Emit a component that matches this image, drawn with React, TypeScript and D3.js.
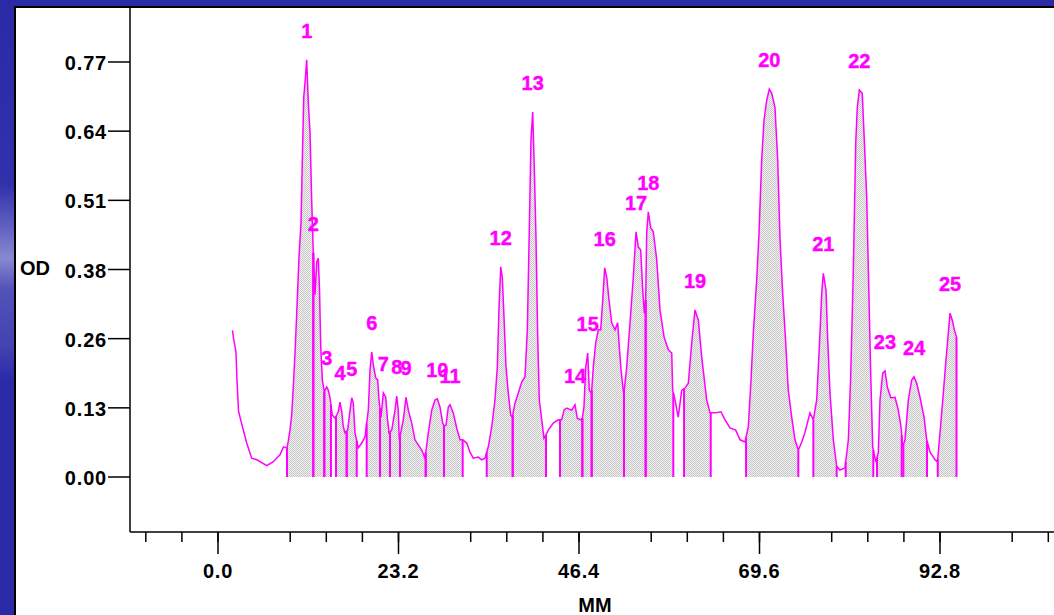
import React from 'react';
import * as d3 from 'd3';

// densitometer scan (MM, OD)
const mm = [
  1.86, 1.99, 2.31, 2.44, 2.64, 3.02, 3.69, 4.33, 5.01, 6.26, 7.07, 7.97, 8.42, 8.87,
  9.06, 9.25, 9.47, 9.68, 9.9, 10.12, 10.41, 10.67, 10.84, 11.02, 11.18, 11.4, 11.61, 11.83,
  12.04, 12.25, 12.47, 12.69, 12.89, 13.05, 13.2, 13.41, 13.66, 13.97, 14.18, 14.4, 14.69, 15.04,
  15.46, 15.68, 15.9, 16.11, 16.32, 16.67, 16.97, 17.19, 17.39, 17.61, 18.03, 18.47, 18.89, 19.32,
  19.54, 19.76, 19.96, 20.27, 20.53, 20.69, 20.95, 21.25, 21.56, 21.76, 21.98, 22.33, 22.75, 22.97,
  23.17, 23.3, 23.82, 24.16, 24.46, 24.9, 25.32, 26.18, 26.61, 27.03, 27.47, 27.89, 28.19, 28.53,
  28.88, 29.05, 29.31, 29.6, 29.82, 30.24, 30.68, 31.11, 31.45, 31.97, 32.39, 32.81, 33.46, 33.89,
  34.32, 34.54, 34.74, 35.18, 35.6, 35.9, 36.12, 36.34, 36.54, 36.76, 37.02, 37.31, 37.62, 37.83,
  38.17, 38.6, 39.04, 39.46, 39.76, 40.01, 40.23, 40.45, 40.66, 40.87, 41.09, 41.3, 41.61, 41.9,
  42.16, 42.45, 43.1, 43.74, 44.18, 44.47, 44.82, 45.46, 45.89, 46.18, 46.62, 46.83, 47.04, 47.26,
  47.52, 47.72, 48.01, 48.24, 48.55, 48.88, 49.19, 49.45, 49.7, 49.96, 50.26, 50.6, 51.03, 51.37,
  51.58, 51.8, 52.09, 52.25, 52.53, 52.96, 53.38, 53.73, 54.02, 54.33, 54.59, 54.8, 54.97, 55.1,
  55.31, 55.62, 55.95, 56.39, 56.81, 57.33, 57.88, 58.32, 58.44, 58.74, 59.16, 59.6, 60.03, 60.45,
  60.89, 61.31, 61.74, 62.17, 62.81, 63.24, 63.88, 64.65, 65.17, 65.81, 66.54, 67.1, 67.74, 68.16,
  68.51, 68.8, 69.24, 69.54, 69.88, 70.18, 70.53, 70.86, 71.17, 71.59, 71.94, 72.24, 72.58, 72.97,
  73.3, 73.74, 74.16, 74.59, 75.03, 75.45, 76.09, 76.52, 76.95, 77.29, 77.6, 77.8, 78.15, 78.37,
  78.66, 79.09, 79.52, 79.95, 80.59, 81.02, 81.32, 81.66, 81.97, 82.17, 82.43, 82.81, 83.07, 83.38,
  83.68, 83.89, 84.15, 84.54, 84.87, 85.09, 85.44, 85.73, 86.03, 86.47, 87.02, 87.44, 87.79, 88.01,
  88.3, 88.73, 89.16, 89.46, 89.81, 90.23, 90.75, 91.09, 91.52, 92.16, 92.48, 92.8, 93.23, 93.57,
  93.87, 94.09, 94.38, 94.64, 94.92,
];
const od = [
  0.272, 0.258, 0.232, 0.18, 0.122, 0.1, 0.063, 0.035, 0.032, 0.021, 0.028, 0.041, 0.056, 0.054,
  0.069, 0.087, 0.115, 0.167, 0.23, 0.304, 0.408, 0.471, 0.588, 0.705, 0.731, 0.774, 0.694, 0.638,
  0.514, 0.416, 0.338, 0.399, 0.406, 0.347, 0.245, 0.18, 0.158, 0.167, 0.161, 0.147, 0.115, 0.109,
  0.121, 0.139, 0.122, 0.093, 0.082, 0.087, 0.124, 0.147, 0.137, 0.082, 0.054, 0.063, 0.074, 0.124,
  0.199, 0.232, 0.208, 0.184, 0.18, 0.143, 0.111, 0.156, 0.148, 0.111, 0.082, 0.087, 0.124, 0.15,
  0.124, 0.069, 0.106, 0.148, 0.124, 0.1, 0.069, 0.05, 0.035, 0.082, 0.124, 0.143, 0.145, 0.13,
  0.1, 0.095, 0.096, 0.13, 0.134, 0.119, 0.091, 0.069, 0.069, 0.063, 0.046, 0.035, 0.037, 0.032,
  0.035, 0.046, 0.056, 0.093, 0.143, 0.204, 0.315, 0.39, 0.371, 0.297, 0.204, 0.156, 0.115, 0.111,
  0.137, 0.156, 0.176, 0.186, 0.273, 0.458, 0.625, 0.677, 0.57, 0.445, 0.26, 0.143, 0.106, 0.072,
  0.078, 0.087, 0.1, 0.106, 0.106, 0.124, 0.128, 0.124, 0.134, 0.109, 0.106, 0.109, 0.13, 0.204,
  0.23, 0.161, 0.156, 0.204, 0.249, 0.273, 0.273, 0.328, 0.388, 0.371, 0.328, 0.286, 0.273, 0.286,
  0.241, 0.199, 0.161, 0.165, 0.204, 0.286, 0.371, 0.455, 0.427, 0.421, 0.347, 0.304, 0.328, 0.453,
  0.492, 0.462, 0.455, 0.403, 0.31, 0.26, 0.236, 0.23, 0.161, 0.143, 0.111, 0.161, 0.165, 0.174,
  0.249, 0.31, 0.291, 0.223, 0.143, 0.119, 0.119, 0.121, 0.106, 0.091, 0.087, 0.069, 0.065, 0.093,
  0.18, 0.267, 0.365, 0.453, 0.588, 0.662, 0.699, 0.72, 0.712, 0.686, 0.588, 0.44, 0.341, 0.249,
  0.161, 0.111, 0.069, 0.05, 0.065, 0.083, 0.119, 0.106, 0.143, 0.241, 0.341, 0.378, 0.347, 0.254,
  0.156, 0.069, 0.02, 0.013, 0.017, 0.069, 0.186, 0.384, 0.62, 0.686, 0.718, 0.712, 0.625, 0.519,
  0.328, 0.193, 0.056, 0.028, 0.045, 0.143, 0.193, 0.197, 0.167, 0.147, 0.148, 0.124, 0.093, 0.056,
  0.069, 0.143, 0.18, 0.186, 0.174, 0.148, 0.111, 0.069, 0.046, 0.032, 0.028, 0.082, 0.156, 0.217,
  0.267, 0.304, 0.291, 0.273, 0.26,
];

// detected bands: name, start and end (MM)
const peakNames = [
  '1', '2', '3', '4', '5', '6', '7', '8', '9', '10', '11', '12', '13',
  '14', '15', '16', '17', '18', '19', '20', '21', '22', '23', '24', '25',
];
const peakStart = [
  8.87, 12.25, 13.66, 15.17, 16.54, 19.11, 20.82, 22.11, 23.39, 26.7, 29.05, 34.54, 37.88,
  43.96, 46.83, 48.03, 52.18, 54.97, 59.9, 67.87, 76.52, 80.68, 84.7, 88.09, 92.51,
];
const peakEnd = [
  12.25, 13.66, 14.52, 16.54, 17.83, 20.82, 22.11, 23.39, 26.7, 29.05, 31.45, 37.88, 42.16,
  46.83, 48.03, 52.18, 54.97, 58.52, 63.33, 74.59, 79.52, 84.23, 87.88, 91.13, 94.92,
];

const yTickValues = [0, 0.1283, 0.2567, 0.385, 0.5133, 0.6417, 0.77];
const yTickLabels = ['0.00', '0.13', '0.26', '0.38', '0.51', '0.64', '0.77'];
const xMajorTicks = [0, 23.2, 46.4, 69.6, 92.8];
const xTickLabels = ['0.0', '23.2', '46.4', '69.6', '92.8'];

const W = 1054;
const H = 615;
const MAGENTA = '#ff00ff';
const FONT = '"Liberation Sans", Arial, sans-serif';

const points = mm.map((m, i) => ({ m, v: od[i] }));

const valueAt = (m: number) => {
  for (let i = 0; i < points.length - 1; i++) {
    const a = points[i];
    const b = points[i + 1];
    if (m >= a.m && m <= b.m) {
      const t = b.m === a.m ? 0 : (m - a.m) / (b.m - a.m);
      return a.v + t * (b.v - a.v);
    }
  }
  return points[points.length - 1].v;
};

export default function App() {
  const x = d3.scaleLinear().domain([0, 92.8]).range([218, 940]);
  const y = d3.scaleLinear().domain([0, 0.77]).range([477, 62]);

  const line = d3
    .line<{ m: number; v: number }>()
    .x((d) => x(d.m))
    .y((d) => y(d.v));

  const area = d3
    .area<{ m: number; v: number }>()
    .x((d) => x(d.m))
    .y0(y(0))
    .y1((d) => y(d.v));

  const peaks = peakNames.map((name, i) => {
    const s = peakStart[i];
    const e = peakEnd[i];
    const seg = [
      { m: s, v: valueAt(s) },
      ...points.filter((p) => p.m > s && p.m < e),
      { m: e, v: valueAt(e) },
    ];
    const top = seg.reduce((a, b) => (b.v > a.v ? b : a), seg[0]);
    return { name, s, e, seg, top };
  });

  const minorTicks = d3
    .range(-2, 24)
    .map((i) => i * 4.64)
    .filter((_, i) => (i + 2) % 5 !== 0);

  const axisY = 532;
  const axisX = 130;

  return (
    <svg
      width={W}
      height={H}
      style={{ position: 'absolute', left: 0, top: 0 }}
      xmlns="http://www.w3.org/2000/svg"
    >
      <defs>
        <linearGradient id="side" x1="0" y1="0" x2="0" y2="1">
          <stop offset="0" stopColor="#2a2aa6" />
          <stop offset="0.3" stopColor="#3131ac" />
          <stop offset="0.36" stopColor="#5a5abe" />
          <stop offset="0.42" stopColor="#8888d0" />
          <stop offset="0.47" stopColor="#5252b8" />
          <stop offset="0.56" stopColor="#4444b2" />
          <stop offset="0.62" stopColor="#2a2aa6" />
          <stop offset="1" stopColor="#2a2aa6" />
        </linearGradient>
        <pattern id="dots" width="2" height="2" patternUnits="userSpaceOnUse">
          <rect width="2" height="2" fill="#f2f2f2" />
          <rect width="1" height="1" fill="#c6c6c6" />
          <rect x="1" y="1" width="1" height="1" fill="#c6c6c6" />
        </pattern>
      </defs>

      {/* background */}
      <rect width={W} height={H} fill="#2a2aa6" />
      <rect width={16} height={H} fill="url(#side)" />
      <rect x={16} y={7} width={W - 16} height={H - 7} fill="#ffffff" />
      <path d={`M15,${H} V7 H${W}`} fill="none" stroke="#000" strokeWidth={2} />

      {/* shaded bands */}
      {peaks.map((p) => (
        <path key={`a${p.name}`} d={area(p.seg) || ''} fill="url(#dots)" />
      ))}

      {/* scan trace */}
      <path d={line(points) || ''} fill="none" stroke={MAGENTA} strokeWidth={1.5} />

      {/* band boundaries */}
      {peaks.map((p) => (
        <g key={`b${p.name}`} stroke={MAGENTA} strokeWidth={2}>
          <line x1={x(p.s)} x2={x(p.s)} y1={y(valueAt(p.s))} y2={y(0)} />
          <line x1={x(p.e)} x2={x(p.e)} y1={y(valueAt(p.e))} y2={y(0)} />
        </g>
      ))}

      {/* band labels */}
      {peaks.map((p) => (
        <text
          key={`l${p.name}`}
          x={x(p.top.m)}
          y={y(p.top.v) - 22}
          textAnchor="middle"
          fill={MAGENTA}
          stroke={MAGENTA}
          strokeWidth={0.4}
          fontFamily={FONT}
          fontWeight="bold"
          fontSize={20}
        >
          {p.name}
        </text>
      ))}

      {/* y axis */}
      <line x1={axisX} x2={axisX} y1={7} y2={axisY} stroke="#000" strokeWidth={1.5} />
      {yTickValues.map((v, i) => (
        <g key={`y${i}`}>
          <line x1={108} x2={axisX} y1={y(v)} y2={y(v)} stroke="#000" strokeWidth={1.5} />
          <text
            x={107}
            y={y(v) + 8}
            textAnchor="end"
            fontFamily={FONT}
            fontWeight="bold"
            fontSize={20}
            letterSpacing={0.8}
            fill="#000"
          >
            {yTickLabels[i]}
          </text>
        </g>
      ))}
      <text x={20} y={275} fontFamily={FONT} fontWeight="bold" fontSize={20} fill="#000">
        OD
      </text>

      {/* x axis */}
      <line x1={axisX} x2={W} y1={axisY} y2={axisY} stroke="#000" strokeWidth={1.5} />
      {minorTicks.map((t) => (
        <line key={`m${t}`} x1={x(t)} x2={x(t)} y1={axisY} y2={axisY + 10} stroke="#000" strokeWidth={1.5} />
      ))}
      {xMajorTicks.map((t, i) => (
        <g key={`x${t}`}>
          <line x1={x(t)} x2={x(t)} y1={axisY} y2={axisY + 22} stroke="#000" strokeWidth={1.5} />
          <text
            x={x(t)}
            y={578}
            textAnchor="middle"
            fontFamily={FONT}
            fontWeight="bold"
            fontSize={20}
            letterSpacing={0.8}
            fill="#000"
          >
            {xTickLabels[i]}
          </text>
        </g>
      ))}
      <text x={595} y={612} textAnchor="middle" fontFamily={FONT} fontWeight="bold" fontSize={20} fill="#000">
        MM
      </text>
    </svg>
  );
}
